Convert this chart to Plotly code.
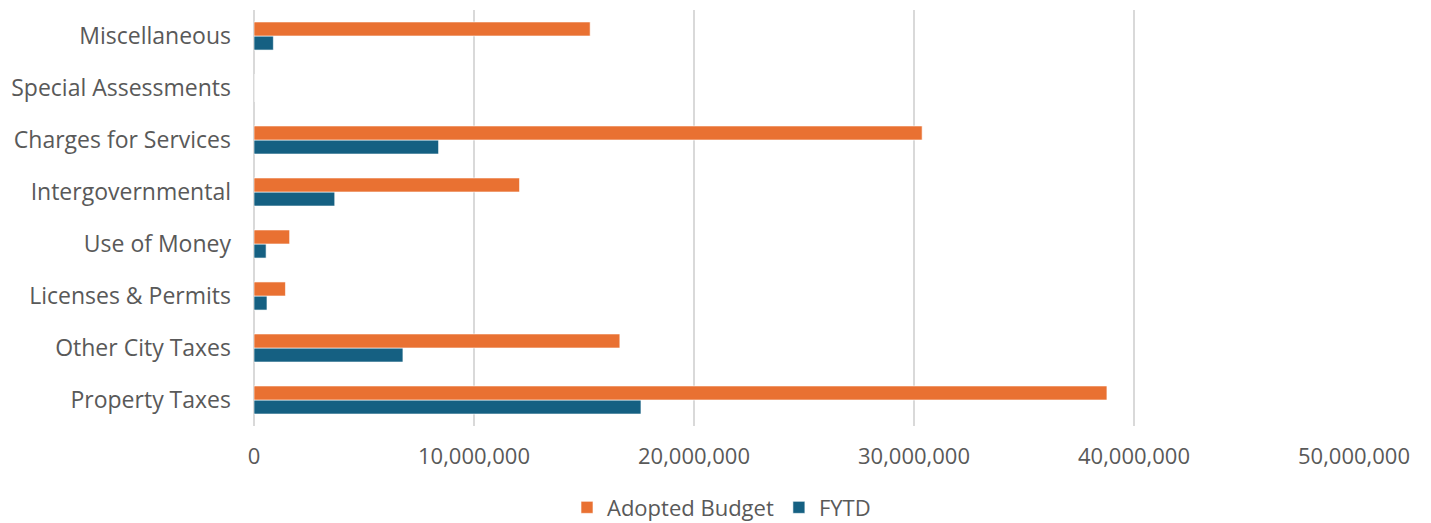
import plotly.graph_objects as go

categories = ["Property Taxes", "Other City Taxes", "Licenses & Permits", "Use of Money",
              "Intergovernmental", "Charges for Services", "Special Assessments", "Miscellaneous"]
adopted_budget = [38770000, 16630000, 1430000, 1620000, 12070000, 30370000, 0, 15280000]
fytd = [17590000, 6770000, 590000, 550000, 3670000, 8390000, 0, 880000]
tick_vals = [0, 10000000, 20000000, 30000000, 40000000, 50000000]
tick_text = ["0", "10,000,000", "20,000,000", "30,000,000", "40,000,000", "50,000,000"]

FONT = "Open Sans"
fig = go.Figure()
fig.add_trace(go.Bar(
    y=categories, x=fytd, name="FYTD", orientation="h",
    marker=dict(color="#156082", line=dict(color="rgba(255,255,255,0.6)", width=1)),
    legendrank=2,
))
fig.add_trace(go.Bar(
    y=categories, x=adopted_budget, name="Adopted Budget", orientation="h",
    marker=dict(color="#E97132", line=dict(color="rgba(255,255,255,0.6)", width=1)),
    legendrank=1,
))
fig.update_layout(
    width=1415, height=515,
    barmode="group", bargap=0.46, bargroupgap=0,
    plot_bgcolor="white", paper_bgcolor="white",
    margin=dict(l=246, r=69, t=2, b=97),
    font=dict(family=FONT, color="#595959", size=22),
    legend=dict(orientation="h", x=0.425, xanchor="center",
                y=0.03, yanchor="middle", yref="container",
                font=dict(size=22, color="#595959"), itemwidth=30, traceorder="normal"),
    showlegend=True,
)
fig.update_xaxes(
    range=[0, 50000000], tickvals=tick_vals, ticktext=tick_text,
    showgrid=True, gridcolor="#D9D9D9", gridwidth=1.5,
    zeroline=True, zerolinecolor="#D9D9D9", zerolinewidth=1.5,
    showline=False, ticklabelstandoff=15, automargin=False,
    tickfont=dict(size=22, color="#595959"),
)
fig.update_yaxes(
    categoryorder="array", categoryarray=categories,
    showgrid=False, showline=False, ticklabelstandoff=22, automargin=False,
    tickfont=dict(size=23, color="#595959"),
)
fig.write_html("out.html")
